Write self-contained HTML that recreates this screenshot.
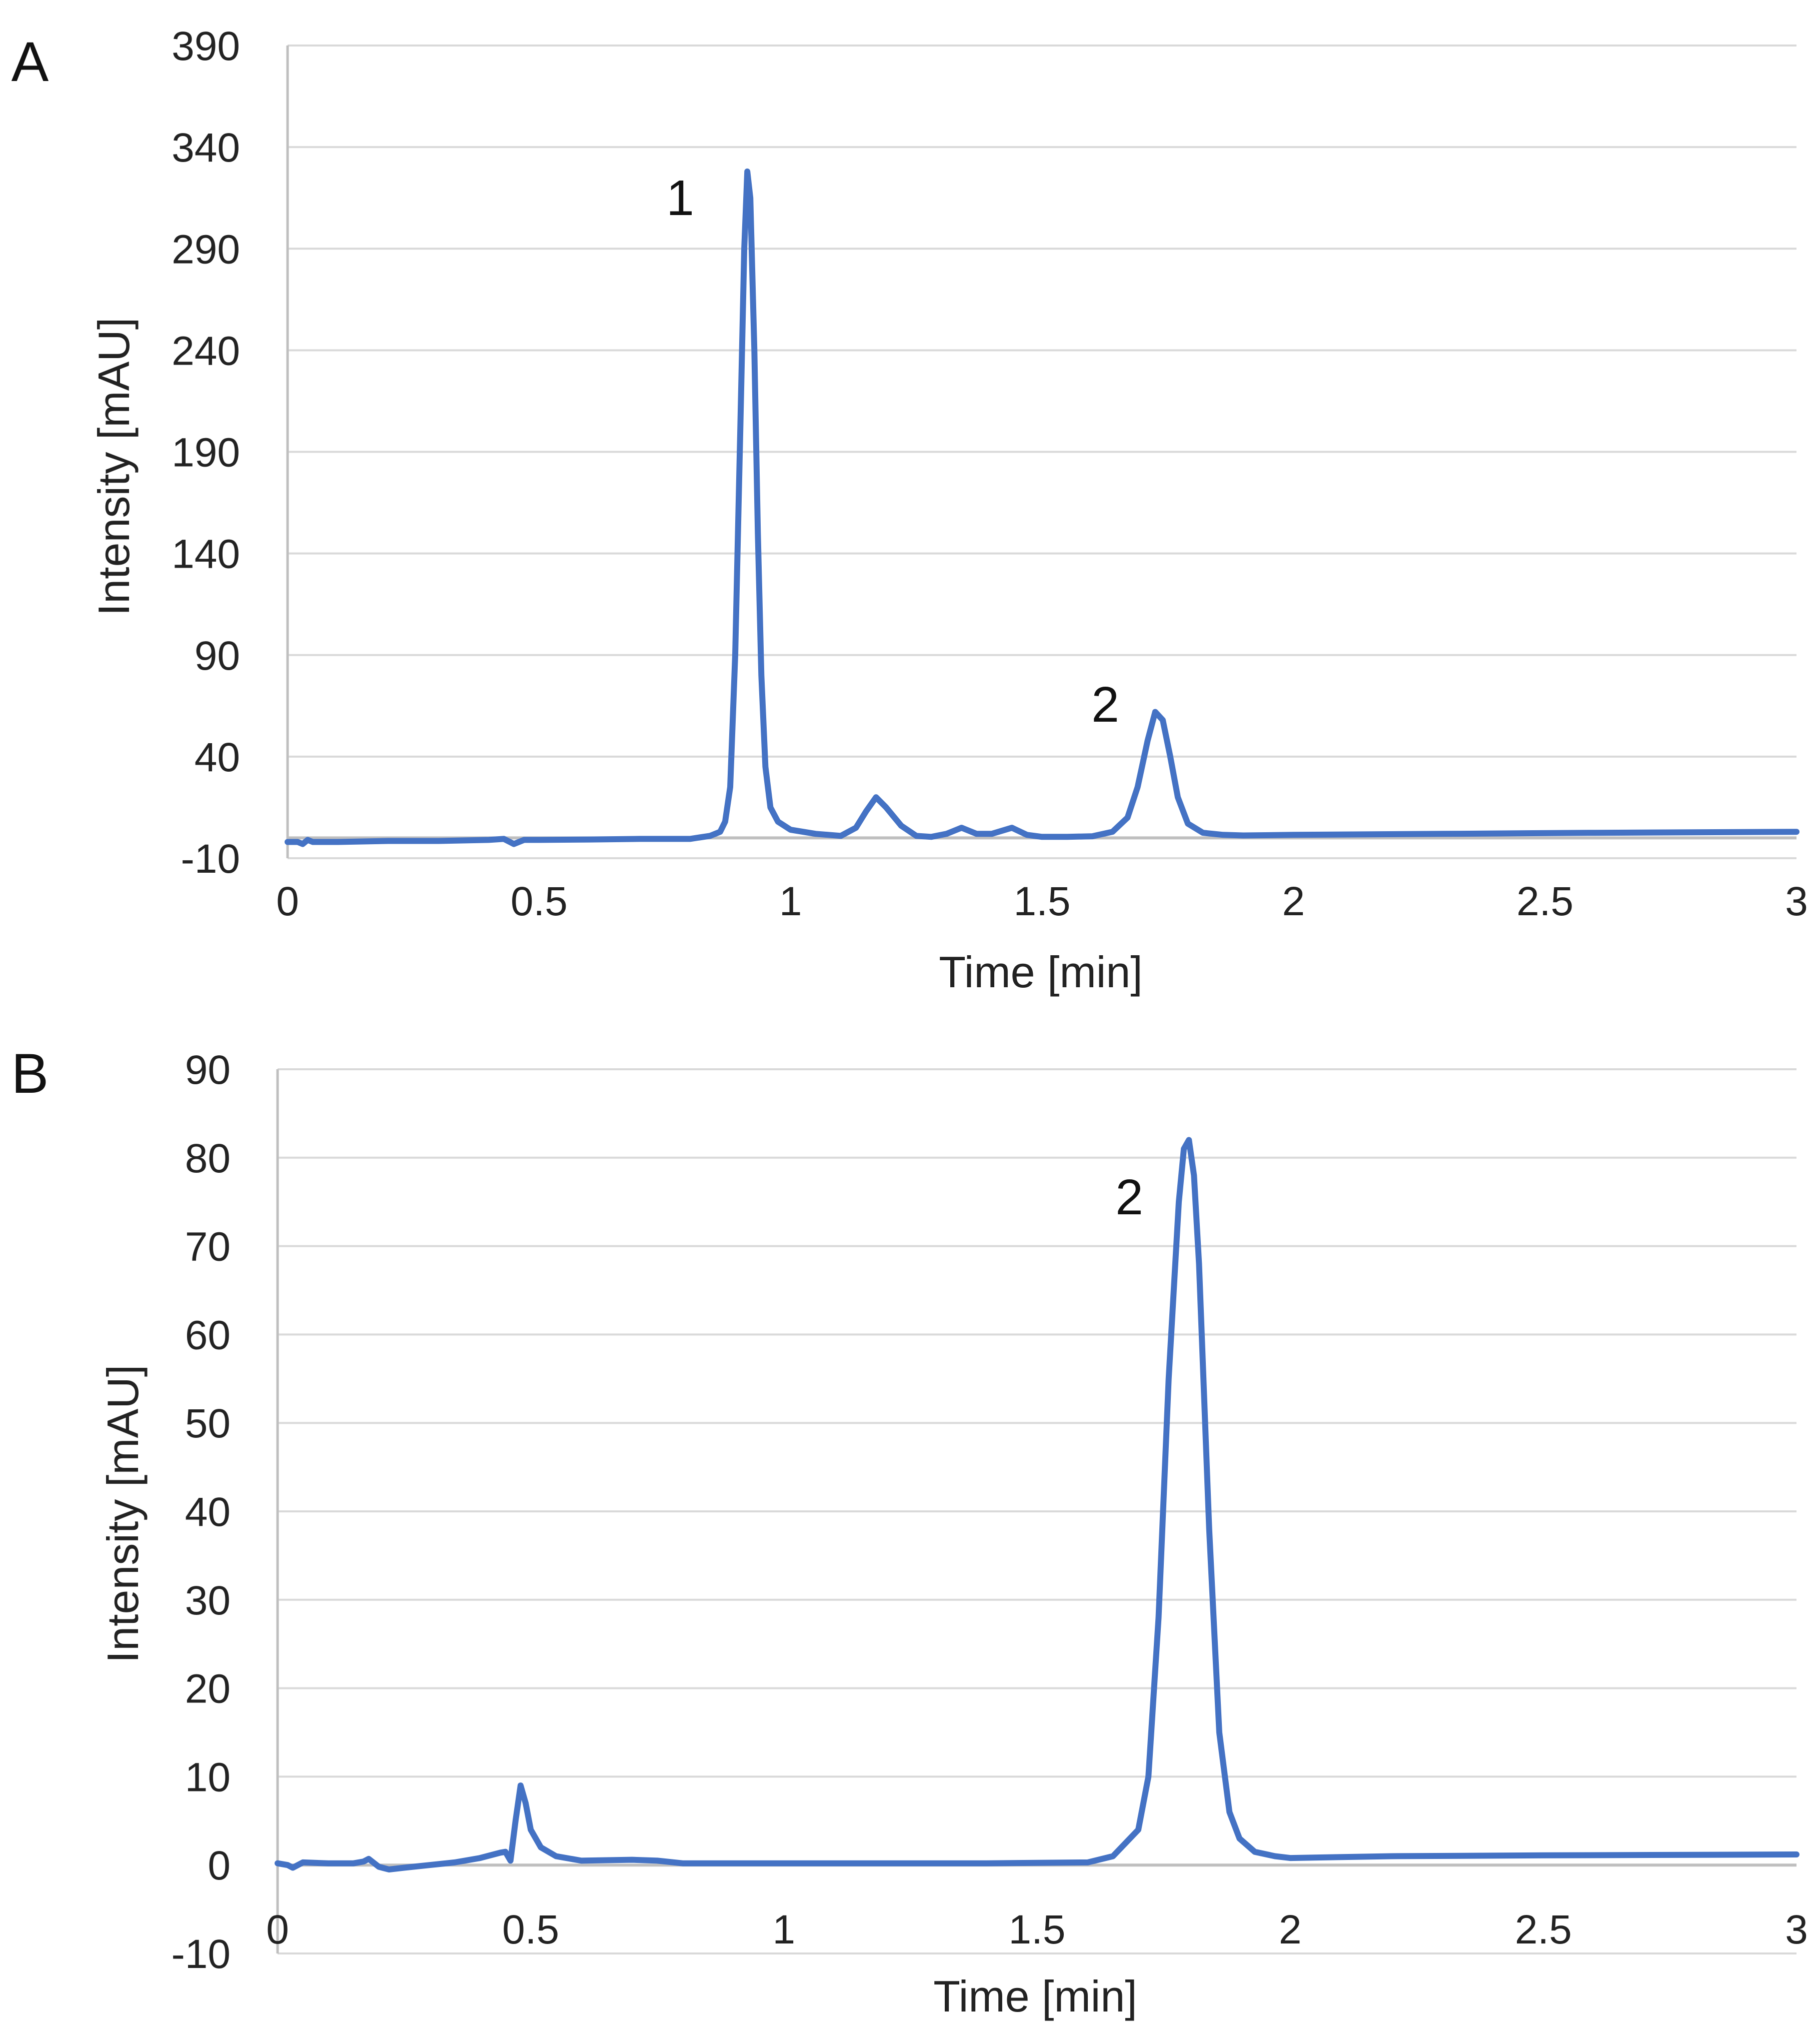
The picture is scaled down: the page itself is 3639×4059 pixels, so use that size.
<!DOCTYPE html>
<html><head><meta charset="utf-8"><style>
html,body{margin:0;padding:0;background:#fff;}
svg{display:block;font-family:"Liberation Sans",sans-serif;}
</style></head><body>
<svg id="fig" width="3639" height="4059" viewBox="0 0 3639 4059" xmlns="http://www.w3.org/2000/svg">
<g id="A"></g>
<g id="B"></g>
</svg>
<script>
const xTicks = [0, 0.5, 1, 1.5, 2, 2.5, 3];
const xTickLabels = ["0", "0.5", "1", "1.5", "2", "2.5", "3"];
const aYTicks = [-10, 40, 90, 140, 190, 240, 290, 340, 390];
const bYTicks = [-10, 0, 10, 20, 30, 40, 50, 60, 70, 80, 90];
const aTime = [0,0.02,0.03,0.04,0.05,0.1,0.2,0.3,0.4,0.43,0.45,0.47,0.5,0.6,0.7,0.8,0.84,0.86,0.87,0.88,0.89,0.9,0.908,0.914,0.92,0.928,0.935,0.942,0.95,0.96,0.975,1.0,1.05,1.1,1.13,1.15,1.17,1.19,1.22,1.25,1.28,1.31,1.34,1.37,1.4,1.44,1.47,1.5,1.55,1.6,1.64,1.67,1.69,1.71,1.725,1.74,1.755,1.77,1.79,1.82,1.86,1.9,2.0,2.3,2.6,3.0];
const aValue = [-2,-2,-3,-1,-2,-2,-1.5,-1.5,-1,-0.5,-3,-1,-1,-0.8,-0.5,-0.5,1,3,8,25,90,200,290,328,315,240,150,80,35,15,8,4,2,1,5,13,20,15,6,1,0.5,2,5,2,2,5,1.5,0.5,0.5,0.8,3,10,25,48,62,58,40,20,7,2.5,1.5,1.2,1.5,2,2.5,3];
const bTime = [0,0.02,0.03,0.05,0.1,0.15,0.17,0.18,0.2,0.22,0.25,0.3,0.35,0.4,0.44,0.45,0.46,0.47,0.48,0.49,0.5,0.52,0.55,0.6,0.7,0.75,0.8,0.9,1.0,1.2,1.4,1.6,1.65,1.7,1.72,1.74,1.76,1.78,1.79,1.8,1.81,1.82,1.84,1.86,1.88,1.9,1.93,1.97,2.0,2.2,2.5,3.0];
const bValue = [0.2,0,-0.3,0.3,0.2,0.2,0.4,0.7,-0.2,-0.5,-0.3,0,0.3,0.8,1.4,1.5,0.5,5,9,7,4,2,1,0.5,0.6,0.5,0.2,0.2,0.2,0.2,0.2,0.3,1,4,10,28,55,75,81,82,78,68,38,15,6,3,1.5,1,0.8,1,1.1,1.2];

const NS = "http://www.w3.org/2000/svg";
function mk(parent, tag, attrs, text){
  const e = document.createElementNS(NS, tag);
  for (const k in attrs) e.setAttribute(k, attrs[k]);
  if (text !== undefined) e.textContent = text;
  parent.appendChild(e);
  return e;
}
function panel(g, cfg){
  const xs = t => cfg.x0 + (t - 0) / 3 * (cfg.x1 - cfg.x0);
  const ys = v => cfg.yBot - (v - cfg.yMin) / (cfg.yMax - cfg.yMin) * (cfg.yBot - cfg.yTop);
  cfg.yTicks.forEach(v => {
    const l = mk(g, "line", {x1: cfg.x0, x2: cfg.x1, y1: ys(v), y2: ys(v), stroke: "#d9d9d9", "stroke-width": 4});
    
    
    const t = mk(g, "text", {x: cfg.labX, y: ys(v) + 29, "text-anchor": "end", "font-size": 82, fill: "#222"}, String(v));
    
    
  });
  const va = mk(g, "line", {x1: cfg.x0, x2: cfg.x0, y1: cfg.yTop, y2: cfg.yBot, stroke: "#bfbfbf", "stroke-width": 5});
  
  
  const ha = mk(g, "line", {x1: cfg.x0, x2: cfg.x1, y1: ys(0), y2: ys(0), stroke: "#bfbfbf", "stroke-width": 6});
  
  
  xTicks.forEach((v, i) => {
    const t = mk(g, "text", {x: xs(v), y: cfg.xLabY + 29, "text-anchor": "middle", "font-size": 82, fill: "#222"}, xTickLabels[i]);
    
    
  });
  const pts = cfg.time.map((t, i) => xs(t).toFixed(1) + "," + ys(cfg.vals[i]).toFixed(1)).join(" ");
  const pl = mk(g, "polyline", {points: pts, fill: "none", stroke: "#4472C4", "stroke-width": 12, "stroke-linejoin": "round", "stroke-linecap": "round"});
  
  
  const xt = mk(g, "text", {x: cfg.xTitleX, y: cfg.xTitleY + 30, "text-anchor": "middle", "font-size": 88, fill: "#222"}, "Time [min]");
  
  
  const yt = mk(g, "text", {x: 0, y: 0, "text-anchor": "middle", "font-size": 88, fill: "#222", transform: "translate(" + (cfg.yTitleX + 30) + "," + cfg.yTitleY + ") rotate(-90)"}, "Intensity [mAU]");
  
  
  const pn = mk(g, "text", {x: cfg.panelX, y: cfg.panelY + 40, "text-anchor": "middle", "font-size": 112, fill: "#111"}, cfg.panel);
  
  
  cfg.peaks.forEach(p => {
    const t = mk(g, "text", {x: p[0], y: p[1] + 36, "text-anchor": "middle", "font-size": 100, fill: "#111"}, p[2]);
    
    
  });
}
panel(document.getElementById("A"), {x0: 575, x1: 3592, yTop: 91, yBot: 1716, yMin: -10, yMax: 390, yTicks: aYTicks,
  labX: 480, xLabY: 1801, time: aTime, vals: aValue, xTitleX: 2081, xTitleY: 1944, yTitleX: 228, yTitleY: 933,
  panel: "A", panelX: 60, panelY: 122, peaks: [[1360, 394, "1"], [2210, 1407, "2"]]});
panel(document.getElementById("B"), {x0: 555, x1: 3592, yTop: 2138, yBot: 3906, yMin: -10, yMax: 90, yTicks: bYTicks,
  labX: 461, xLabY: 3857, time: bTime, vals: bValue, xTitleX: 2070, xTitleY: 3992, yTitleX: 246, yTitleY: 3027,
  panel: "B", panelX: 60, panelY: 2145, peaks: [[2258, 2392, "2"]]});
</script>
</body></html>
